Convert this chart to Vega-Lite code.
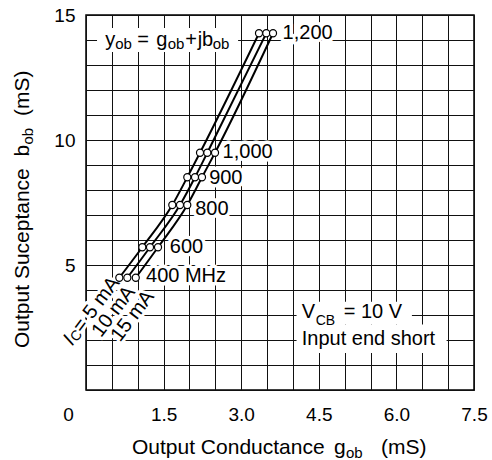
{
  "$schema": "https://vega.github.io/schema/vega-lite/v6.json",
  "width": 388,
  "height": 375,
  "autosize": {"type": "none"},
  "padding": {"left": 86, "top": 15, "right": 18, "bottom": 70},
  "background": "white",
  "config": {
    "view": {"stroke": "black", "strokeWidth": 1.5},
    "font": "Liberation Sans",
    "text": {"font": "Liberation Sans", "color": "black"}
  },
  "resolve": {"axis": {"x": "independent", "y": "independent"}},
  "datasets": {
    "curves": [
      {"ic": 5, "freq": 400, "g": 0.644, "b": 4.49},
      {"ic": 5, "freq": 600, "g": 1.088, "b": 5.71},
      {"ic": 5, "freq": 800, "g": 1.668, "b": 7.40},
      {"ic": 5, "freq": 900, "g": 1.958, "b": 8.51},
      {"ic": 5, "freq": 1000, "g": 2.204, "b": 9.49},
      {"ic": 5, "freq": 1200, "g": 3.344, "b": 14.27},
      {"ic": 10, "freq": 400, "g": 0.799, "b": 4.49},
      {"ic": 10, "freq": 600, "g": 1.237, "b": 5.71},
      {"ic": 10, "freq": 800, "g": 1.817, "b": 7.40},
      {"ic": 10, "freq": 900, "g": 2.107, "b": 8.51},
      {"ic": 10, "freq": 1000, "g": 2.345, "b": 9.49},
      {"ic": 10, "freq": 1200, "g": 3.485, "b": 14.27},
      {"ic": 15, "freq": 400, "g": 0.962, "b": 4.49},
      {"ic": 15, "freq": 600, "g": 1.392, "b": 5.71},
      {"ic": 15, "freq": 800, "g": 1.958, "b": 7.40},
      {"ic": 15, "freq": 900, "g": 2.242, "b": 8.51},
      {"ic": 15, "freq": 1000, "g": 2.494, "b": 9.49},
      {"ic": 15, "freq": 1200, "g": 3.615, "b": 14.27}
    ],
    "labels": [
      {"label": "1,200", "g": 3.80, "b": 14.27},
      {"label": "1,000", "g": 2.64, "b": 9.53},
      {"label": "900", "g": 2.38, "b": 8.47},
      {"label": "800", "g": 2.11, "b": 7.23},
      {"label": "600", "g": 1.62, "b": 5.71},
      {"label": "400 MHz", "g": 1.16, "b": 4.56}
    ],
    "iclabels": [
      {"label": "10 mA", "g": 0.532, "b": 3.14},
      {"label": "15 mA", "g": 0.899, "b": 2.96}
    ]
  },
  "layer": [
    {
      "data": {"name": "labels"},
      "mark": {"type": "text", "align": "left", "baseline": "middle", "fontSize": 20, "fill": "white", "stroke": "white", "strokeWidth": 7, "strokeJoin": "round"},
      "encoding": {
        "x": {"field": "g", "type": "quantitative", "scale": {"domain": [0, 7.5], "nice": false, "zero": false},
          "axis": {"orient": "bottom", "values": [0, 0.5, 1, 1.5, 2, 2.5, 3, 3.5, 4, 4.5, 5, 5.5, 6, 6.5, 7, 7.5], "grid": true, "gridColor": "#111111", "gridWidth": 1, "gridOpacity": 1, "domain": false, "ticks": false, "tickSize": 0, "labelPadding": 15, "labelFontSize": 19, "labelFont": "Liberation Sans", "labelColor": "black", "labelFlush": false, "labelOverlap": false, "labelExpr": "datum.value == 0 ? '0' : (datum.value % 1.5 == 0 ? format(datum.value, '.1f') : '')", "labelOffset": {"condition": {"test": "datum.value == 0", "value": -18}, "value": 0}, "title": null}},
        "y": {"field": "b", "type": "quantitative", "scale": {"domain": [0, 15], "nice": false, "zero": false},
          "axis": {"orient": "left", "values": [0, 1, 2, 3, 4, 5, 6, 7, 8, 9, 10, 11, 12, 13, 14, 15], "grid": true, "gridColor": "#111111", "gridWidth": 1, "gridOpacity": 1, "domain": false, "ticks": false, "tickSize": 0, "labelPadding": 11, "labelFontSize": 19, "labelFont": "Liberation Sans", "labelColor": "black", "labelOverlap": false, "labelExpr": "datum.value > 0 && datum.value % 5 == 0 ? datum.label : ''", "title": null}},
        "text": {"field": "label"}
      }
    },
    {
      "data": {"name": "iclabels"},
      "mark": {"type": "text", "align": "center", "baseline": "middle", "fontSize": 20, "angle": -53, "fill": "white", "stroke": "white", "strokeWidth": 6, "strokeJoin": "round"},
      "encoding": {
        "x": {"field": "g", "type": "quantitative", "axis": null},
        "y": {"field": "b", "type": "quantitative", "axis": null},
        "text": {"field": "label"}
      }
    },
    {
      "data": {"values": [{}]},
      "mark": {"type": "text", "text": "I", "fontStyle": "italic", "align": "left", "baseline": "middle", "fontSize": 20, "angle": -53, "fill": "white", "stroke": "white", "strokeWidth": 6, "strokeJoin": "round"},
      "encoding": {"x": {"datum": -0.358, "type": "quantitative", "axis": null}, "y": {"datum": 1.88, "type": "quantitative", "axis": null}}
    },
    {
      "data": {"values": [{}]},
      "mark": {"type": "text", "text": "C", "align": "left", "baseline": "middle", "fontSize": 14, "angle": -53, "dx": 6, "dy": 3, "fill": "white", "stroke": "white", "strokeWidth": 6, "strokeJoin": "round"},
      "encoding": {"x": {"datum": -0.358, "type": "quantitative", "axis": null}, "y": {"datum": 1.88, "type": "quantitative", "axis": null}}
    },
    {
      "data": {"values": [{}]},
      "mark": {"type": "text", "text": "= 5 mA", "align": "left", "baseline": "middle", "fontSize": 20, "angle": -53, "dx": 16, "fill": "white", "stroke": "white", "strokeWidth": 6, "strokeJoin": "round"},
      "encoding": {"x": {"datum": -0.358, "type": "quantitative", "axis": null}, "y": {"datum": 1.88, "type": "quantitative", "axis": null}}
    },
    {
      "data": {"values": [{}]},
      "mark": {"type": "rect", "fill": "white"},
      "encoding": {"x": {"datum": 0.213, "type": "quantitative", "axis": null}, "x2": {"datum": 2.94}, "y": {"datum": 14.48, "type": "quantitative", "axis": null}, "y2": {"datum": 13.52}}
    },
    {
      "data": {"values": [{}]},
      "mark": {"type": "rect", "fill": "white"},
      "encoding": {"x": {"datum": 4.07, "type": "quantitative", "axis": null}, "x2": {"datum": 6.30}, "y": {"datum": 3.53, "type": "quantitative", "axis": null}, "y2": {"datum": 2.62}}
    },
    {
      "data": {"values": [{}]},
      "mark": {"type": "rect", "fill": "white"},
      "encoding": {"x": {"datum": 4.07, "type": "quantitative", "axis": null}, "x2": {"datum": 6.97}, "y": {"datum": 2.62, "type": "quantitative", "axis": null}, "y2": {"datum": 1.48}}
    },
    {
      "data": {"name": "curves"},
      "mark": {"type": "line", "color": "black", "strokeWidth": 2, "interpolate": "monotone"},
      "encoding": {
        "x": {"field": "g", "type": "quantitative", "axis": null},
        "y": {"field": "b", "type": "quantitative", "axis": null},
        "detail": {"field": "ic", "type": "nominal"},
        "order": {"field": "freq", "type": "quantitative"}
      }
    },
    {
      "data": {"name": "curves"},
      "mark": {"type": "point", "shape": "circle", "filled": true, "fill": "white", "stroke": "black", "strokeWidth": 1.2, "size": 50, "opacity": 1},
      "encoding": {
        "x": {"field": "g", "type": "quantitative", "axis": null},
        "y": {"field": "b", "type": "quantitative", "axis": null}
      }
    },
    {
      "data": {"name": "labels"},
      "mark": {"type": "text", "align": "left", "baseline": "middle", "fontSize": 20, "color": "black"},
      "encoding": {
        "x": {"field": "g", "type": "quantitative", "axis": null},
        "y": {"field": "b", "type": "quantitative", "axis": null},
        "text": {"field": "label"}
      }
    },
    {
      "data": {"name": "iclabels"},
      "mark": {"type": "text", "align": "center", "baseline": "middle", "fontSize": 20, "angle": -53, "color": "black"},
      "encoding": {
        "x": {"field": "g", "type": "quantitative", "axis": null},
        "y": {"field": "b", "type": "quantitative", "axis": null},
        "text": {"field": "label"}
      }
    },
    {
      "data": {"values": [{}]},
      "mark": {"type": "text", "text": "I", "fontStyle": "italic", "align": "left", "baseline": "middle", "fontSize": 20, "angle": -53, "color": "black"},
      "encoding": {"x": {"datum": -0.358, "type": "quantitative", "axis": null}, "y": {"datum": 1.88, "type": "quantitative", "axis": null}}
    },
    {
      "data": {"values": [{}]},
      "mark": {"type": "text", "text": "C", "align": "left", "baseline": "middle", "fontSize": 14, "angle": -53, "dx": 6, "dy": 3, "color": "black"},
      "encoding": {"x": {"datum": -0.358, "type": "quantitative", "axis": null}, "y": {"datum": 1.88, "type": "quantitative", "axis": null}}
    },
    {
      "data": {"values": [{}]},
      "mark": {"type": "text", "text": "= 5 mA", "align": "left", "baseline": "middle", "fontSize": 20, "angle": -53, "dx": 16, "color": "black"},
      "encoding": {"x": {"datum": -0.358, "type": "quantitative", "axis": null}, "y": {"datum": 1.88, "type": "quantitative", "axis": null}}
    },
    {
      "data": {"values": [{}]},
      "mark": {"type": "text", "text": "y", "align": "left", "baseline": "alphabetic", "fontSize": 20, "dx": 0, "color": "black"},
      "encoding": {"x": {"datum": 0.37, "type": "quantitative", "axis": null}, "y": {"datum": 13.76, "type": "quantitative", "axis": null}}
    },
    {
      "data": {"values": [{}]},
      "mark": {"type": "text", "text": "ob", "align": "left", "baseline": "alphabetic", "fontSize": 15, "dx": 10, "dy": 3, "color": "black"},
      "encoding": {"x": {"datum": 0.37, "type": "quantitative", "axis": null}, "y": {"datum": 13.76, "type": "quantitative", "axis": null}}
    },
    {
      "data": {"values": [{}]},
      "mark": {"type": "text", "text": "=", "align": "left", "baseline": "alphabetic", "fontSize": 20, "dx": 32, "color": "black"},
      "encoding": {"x": {"datum": 0.37, "type": "quantitative", "axis": null}, "y": {"datum": 13.76, "type": "quantitative", "axis": null}}
    },
    {
      "data": {"values": [{}]},
      "mark": {"type": "text", "text": "g", "align": "left", "baseline": "alphabetic", "fontSize": 20, "dx": 51, "color": "black"},
      "encoding": {"x": {"datum": 0.37, "type": "quantitative", "axis": null}, "y": {"datum": 13.76, "type": "quantitative", "axis": null}}
    },
    {
      "data": {"values": [{}]},
      "mark": {"type": "text", "text": "ob", "align": "left", "baseline": "alphabetic", "fontSize": 15, "dx": 62.5, "dy": 3, "color": "black"},
      "encoding": {"x": {"datum": 0.37, "type": "quantitative", "axis": null}, "y": {"datum": 13.76, "type": "quantitative", "axis": null}}
    },
    {
      "data": {"values": [{}]},
      "mark": {"type": "text", "text": "+", "align": "left", "baseline": "alphabetic", "fontSize": 20, "dx": 80, "color": "black"},
      "encoding": {"x": {"datum": 0.37, "type": "quantitative", "axis": null}, "y": {"datum": 13.76, "type": "quantitative", "axis": null}}
    },
    {
      "data": {"values": [{}]},
      "mark": {"type": "text", "text": "jb", "align": "left", "baseline": "alphabetic", "fontSize": 20, "dx": 92.5, "color": "black"},
      "encoding": {"x": {"datum": 0.37, "type": "quantitative", "axis": null}, "y": {"datum": 13.76, "type": "quantitative", "axis": null}}
    },
    {
      "data": {"values": [{}]},
      "mark": {"type": "text", "text": "ob", "align": "left", "baseline": "alphabetic", "fontSize": 15, "dx": 107.5, "dy": 3, "color": "black"},
      "encoding": {"x": {"datum": 0.37, "type": "quantitative", "axis": null}, "y": {"datum": 13.76, "type": "quantitative", "axis": null}}
    },
    {
      "data": {"values": [{}]},
      "mark": {"type": "text", "text": "V", "align": "left", "baseline": "alphabetic", "fontSize": 20, "dx": 0, "color": "black"},
      "encoding": {"x": {"datum": 4.17, "type": "quantitative", "axis": null}, "y": {"datum": 2.868, "type": "quantitative", "axis": null}}
    },
    {
      "data": {"values": [{}]},
      "mark": {"type": "text", "text": "CB", "align": "left", "baseline": "alphabetic", "fontSize": 14, "dx": 14, "dy": 6.5, "color": "black"},
      "encoding": {"x": {"datum": 4.17, "type": "quantitative", "axis": null}, "y": {"datum": 2.868, "type": "quantitative", "axis": null}}
    },
    {
      "data": {"values": [{}]},
      "mark": {"type": "text", "text": "= 10 V", "align": "left", "baseline": "alphabetic", "fontSize": 20, "dx": 42, "color": "black"},
      "encoding": {"x": {"datum": 4.17, "type": "quantitative", "axis": null}, "y": {"datum": 2.868, "type": "quantitative", "axis": null}}
    },
    {
      "data": {"values": [{}]},
      "mark": {"type": "text", "text": "Input end short", "align": "left", "baseline": "alphabetic", "fontSize": 20, "dx": 0, "color": "black"},
      "encoding": {"x": {"datum": 4.17, "type": "quantitative", "axis": null}, "y": {"datum": 1.8, "type": "quantitative", "axis": null}}
    },
    {
      "data": {"values": [{}]},
      "mark": {"type": "text", "text": "Output Conductance", "align": "left", "baseline": "alphabetic", "fontSize": 21, "dx": 0, "color": "black"},
      "encoding": {"x": {"datum": 0.889, "type": "quantitative", "axis": null}, "y": {"datum": -2.56, "type": "quantitative", "axis": null}}
    },
    {
      "data": {"values": [{}]},
      "mark": {"type": "text", "text": "g", "align": "left", "baseline": "alphabetic", "fontSize": 21, "dx": 202, "color": "black"},
      "encoding": {"x": {"datum": 0.889, "type": "quantitative", "axis": null}, "y": {"datum": -2.56, "type": "quantitative", "axis": null}}
    },
    {
      "data": {"values": [{}]},
      "mark": {"type": "text", "text": "ob", "align": "left", "baseline": "alphabetic", "fontSize": 15, "dx": 214, "dy": 4, "color": "black"},
      "encoding": {"x": {"datum": 0.889, "type": "quantitative", "axis": null}, "y": {"datum": -2.56, "type": "quantitative", "axis": null}}
    },
    {
      "data": {"values": [{}]},
      "mark": {"type": "text", "text": "(mS)", "align": "left", "baseline": "alphabetic", "fontSize": 21, "dx": 249, "color": "black"},
      "encoding": {"x": {"datum": 0.889, "type": "quantitative", "axis": null}, "y": {"datum": -2.56, "type": "quantitative", "axis": null}}
    },
    {
      "data": {"values": [{}]},
      "mark": {"type": "text", "text": "Output Suceptance", "align": "left", "baseline": "alphabetic", "fontSize": 21, "angle": -90, "dx": 0, "color": "black"},
      "encoding": {"x": {"datum": -1.102, "type": "quantitative", "axis": null}, "y": {"datum": 1.68, "type": "quantitative", "axis": null}}
    },
    {
      "data": {"values": [{}]},
      "mark": {"type": "text", "text": "b", "align": "left", "baseline": "alphabetic", "fontSize": 21, "angle": -90, "dx": 191.5, "color": "black"},
      "encoding": {"x": {"datum": -1.102, "type": "quantitative", "axis": null}, "y": {"datum": 1.68, "type": "quantitative", "axis": null}}
    },
    {
      "data": {"values": [{}]},
      "mark": {"type": "text", "text": "ob", "align": "left", "baseline": "alphabetic", "fontSize": 15, "angle": -90, "dx": 203.5, "dy": 4, "color": "black"},
      "encoding": {"x": {"datum": -1.102, "type": "quantitative", "axis": null}, "y": {"datum": 1.68, "type": "quantitative", "axis": null}}
    },
    {
      "data": {"values": [{}]},
      "mark": {"type": "text", "text": "(mS)", "align": "left", "baseline": "alphabetic", "fontSize": 21, "angle": -90, "dx": 232, "color": "black"},
      "encoding": {"x": {"datum": -1.102, "type": "quantitative", "axis": null}, "y": {"datum": 1.68, "type": "quantitative", "axis": null}}
    }
  ]
}
